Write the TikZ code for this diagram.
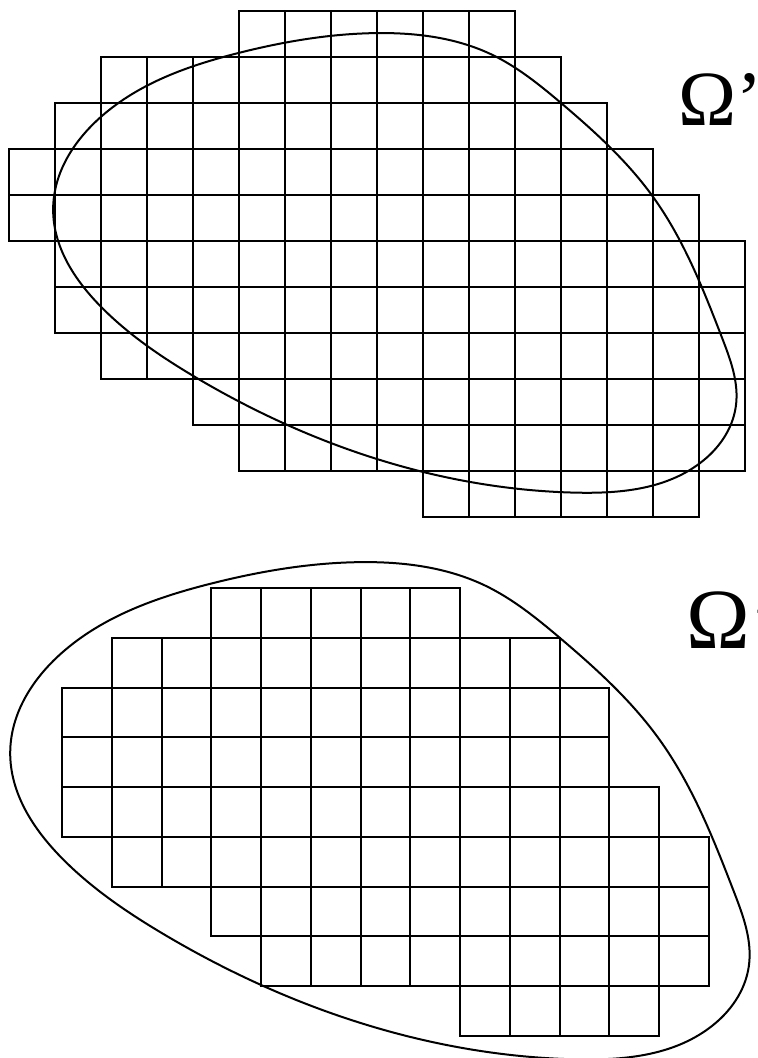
\documentclass[tikz,border=0pt]{standalone}
\usepackage{fontspec}
\usepackage{graphicx}
\setmainfont{Liberation Serif}
\usetikzlibrary{calc, hobby}
\tikzset{
    cellbox/.style={draw=black, line width=1pt},
    boundary/.style={draw=black, line width=1pt, use Hobby shortcut, closed=true},
    omega/.style={anchor=base west, inner sep=0pt}
}
% closed outline of the domain, in cells of the outer grid
\newcommand{\drawboundary}{%
    \draw[boundary] (8,0.48) .. (10.5,0.95) .. (12,2) .. (14,4.04)
        .. (15.5,7.1) .. (15.8,8.6) .. (15.02,9.83) .. (12.3,10.47)
        .. (8,9.74) .. (4,7.93) .. (2,6.43) .. (0.96,4.3) .. (2,2.3)
        .. (5,0.91);}

\begin{document}
\begin{tikzpicture}[x=0.5pt, y=-0.5pt]
    \useasboundingbox (0,0) rectangle (758,1058);

    % Outer cover: all cells touching the domain
    \begin{scope}[shift={(9,11)}, scale=46]
        \foreach \r/\a/\b in {0/5/10, 1/2/11, 2/1/12, 3/0/13, 4/0/14, 5/1/15,
                              6/1/15, 7/2/15, 8/4/15, 9/5/15, 10/9/14}
            \foreach \c in {\a,...,\b}
                \draw[cellbox] (\c,\r) rectangle ++(1,1);
        \drawboundary
    \end{scope}

    % Inner cells: cells lying inside the domain
    \begin{scope}[shift={(-37.54,538.23)}, scale=49.77]
        \foreach \r/\a/\b in {1/5/9, 2/3/11, 3/2/12, 4/2/12, 5/2/13,
                              6/3/14, 7/5/14, 8/6/14, 9/10/13}
            \foreach \c in {\a,...,\b}
                \draw[cellbox] (\c,\r) rectangle ++(1,1);
        \drawboundary
    \end{scope}

    \node[omega] (omegaout) at (678,126) {\resizebox{!}{26pt}{Ω’’}};
    \node[omega] (omegain) at (686,648) {\resizebox{!}{28.5pt}{Ω’}};
\end{tikzpicture}
\end{document}
